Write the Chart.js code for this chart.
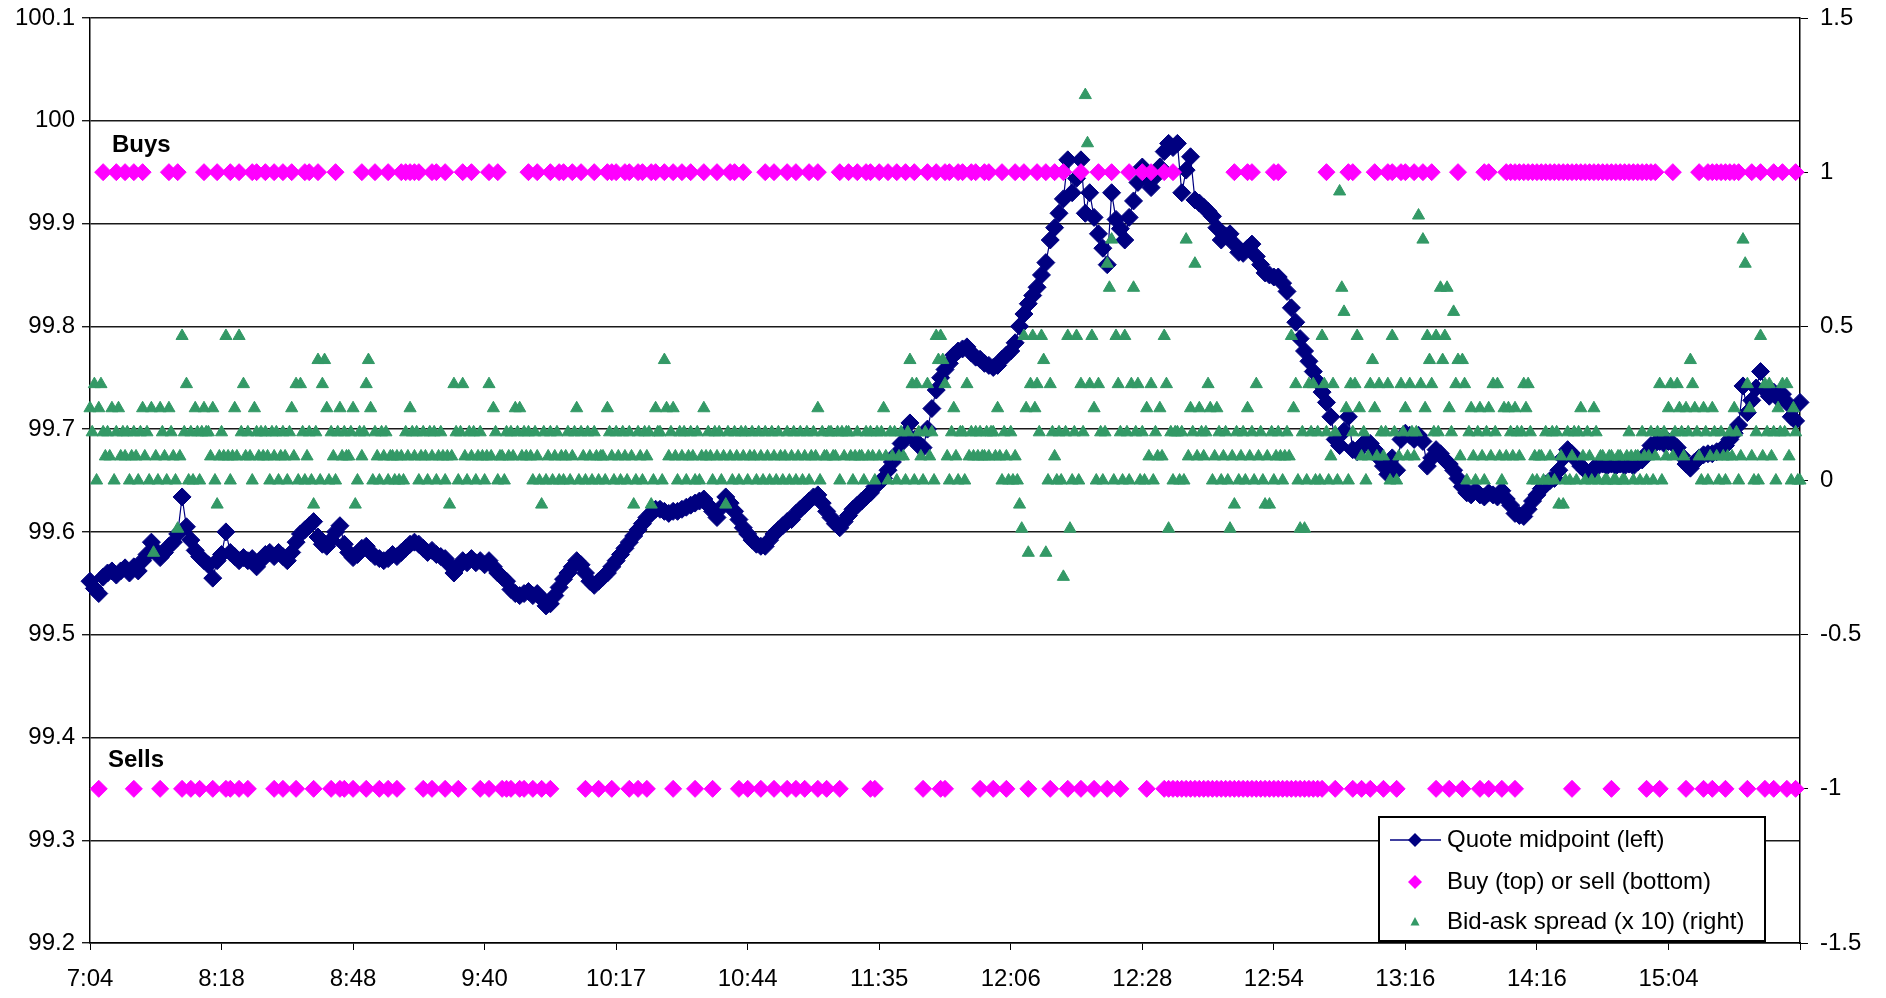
<!DOCTYPE html>
<html>
<head>
<meta charset="utf-8">
<script src="https://cdn.jsdelivr.net/npm/chart.js"></script>
<style>
  html, body { margin: 0; padding: 0; background: #fff; }
  #wrap { width: 1886px; height: 998px; position: relative; }
</style>
</head>
<body>
<div id="wrap"><canvas id="myChart"></canvas></div>
<script>
// time labels shown every 30 steps along the x axis
const timeLabels = ["7:04", "8:18", "8:48", "9:40", "10:17", "10:44", "11:35", "12:06", "12:28", "12:54", "13:16", "14:16", "15:04"];

// quote midpoint (left axis), one value per step 0..390
const midpoint = [
  99.552, 99.545, 99.540, 99.556, 99.560, 99.562, 99.558, 99.562, 99.565, 99.560,
  99.566, 99.562, 99.572, 99.578, 99.590, 99.582, 99.575, 99.580, 99.586, 99.590,
  99.598, 99.634, 99.605, 99.592, 99.582, 99.576, 99.572, 99.568, 99.555, 99.572,
  99.578, 99.600, 99.580, 99.576, 99.572, 99.575, 99.572, 99.574, 99.566, 99.572,
  99.578, 99.580, 99.576, 99.580, 99.576, 99.572, 99.580, 99.590, 99.598, 99.602,
  99.606, 99.610, 99.595, 99.588, 99.586, 99.592, 99.600, 99.606, 99.588, 99.580,
  99.575, 99.578, 99.584, 99.586, 99.580, 99.576, 99.574, 99.572, 99.574, 99.578,
  99.576, 99.580, 99.584, 99.588, 99.590, 99.588, 99.584, 99.580, 99.582, 99.578,
  99.576, 99.574, 99.568, 99.560, 99.566, 99.572, 99.570, 99.574, 99.570, 99.572,
  99.568, 99.572, 99.566, 99.560, 99.556, 99.552, 99.544, 99.540, 99.538, 99.540,
  99.542, 99.538, 99.540, 99.535, 99.528, 99.530, 99.538, 99.546, 99.554, 99.560,
  99.566, 99.572, 99.568, 99.560, 99.552, 99.548, 99.552, 99.556, 99.560, 99.566,
  99.572, 99.578, 99.584, 99.590, 99.596, 99.602, 99.608, 99.614, 99.618, 99.622,
  99.622, 99.620, 99.618, 99.620, 99.620, 99.622, 99.624, 99.626, 99.628, 99.630,
  99.632, 99.626, 99.620, 99.614, 99.624, 99.634, 99.628, 99.620, 99.612, 99.604,
  99.598, 99.592, 99.588, 99.586, 99.586, 99.592, 99.598, 99.602, 99.606, 99.610,
  99.612, 99.618, 99.622, 99.626, 99.630, 99.634, 99.636, 99.628, 99.620, 99.614,
  99.608, 99.604, 99.610, 99.616, 99.622, 99.626, 99.630, 99.634, 99.638, 99.644,
  99.648, 99.652, 99.660, 99.668, 99.676, 99.686, 99.696, 99.706, 99.690, 99.684,
  99.682, 99.700, 99.720, 99.738, 99.750, 99.758, 99.764, 99.772, 99.776, 99.778,
  99.780, 99.774, 99.770, 99.768, 99.764, 99.762, 99.760, 99.762, 99.768, 99.772,
  99.776, 99.784, 99.800, 99.812, 99.822, 99.830, 99.838, 99.850, 99.862, 99.884,
  99.896, 99.910, 99.924, 99.962, 99.930, 99.944, 99.962, 99.910, 99.930, 99.906,
  99.890, 99.876, 99.860, 99.930, 99.904, 99.895, 99.884, 99.906, 99.922, 99.940,
  99.955, 99.944, 99.935, 99.946, 99.955, 99.970, 99.978, 99.974, 99.978, 99.930,
  99.952, 99.965, 99.923, 99.920, 99.916, 99.912, 99.907, 99.896, 99.884, 99.888,
  99.890, 99.880, 99.872, 99.871, 99.876, 99.880, 99.868, 99.860, 99.852, 99.850,
  99.848, 99.848, 99.842, 99.834, 99.818, 99.804, 99.788, 99.776, 99.766, 99.756,
  99.746, 99.736, 99.726, 99.712, 99.690, 99.684, 99.698, 99.712, 99.680, 99.678,
  99.684, 99.688, 99.686, 99.680, 99.672, 99.664, 99.656, 99.672, 99.660, 99.690,
  99.696, 99.694, 99.690, 99.694, 99.688, 99.664, 99.672, 99.680, 99.676, 99.670,
  99.666, 99.660, 99.652, 99.644, 99.638, 99.636, 99.640, 99.636, 99.634, 99.638,
  99.636, 99.634, 99.640, 99.632, 99.626, 99.618, 99.616, 99.615, 99.622, 99.630,
  99.636, 99.642, 99.646, 99.650, 99.652, 99.660, 99.672, 99.680, 99.676, 99.670,
  99.664, 99.660, 99.656, 99.662, 99.664, 99.666, 99.664, 99.666, 99.664, 99.666,
  99.664, 99.666, 99.664, 99.668, 99.670, 99.676, 99.684, 99.686, 99.688, 99.686,
  99.688, 99.686, 99.682, 99.674, 99.666, 99.662, 99.668, 99.672, 99.675, 99.676,
  99.676, 99.678, 99.680, 99.684, 99.690, 99.696, 99.704, 99.742, 99.716, 99.728,
  99.740, 99.756, 99.738, 99.732, 99.736, 99.730, 99.734, 99.726, 99.712, 99.708, 99.726
];

// steps at which a buy / a sell took place
const buyTrades = [3, 6, 8, 10, 12, 18, 20, 26, 29, 32, 34, 37, 38, 40, 42, 44, 46, 49, 50, 52, 56, 62, 65, 68,
  71, 72, 73, 74, 75, 78, 79, 81, 85, 87, 91, 93, 100, 102, 105, 107, 108, 110, 112, 115, 118, 119, 120, 122,
  123, 125, 126, 128, 129, 131, 133, 135, 137, 140, 143, 146, 147, 149, 154, 156, 159, 161, 164, 166, 171, 173,
  175, 177, 178, 180, 182, 184, 186, 188, 191, 193, 195, 196, 198, 199, 201, 202, 204, 205, 208, 211, 213, 216,
  218, 220, 222, 226, 230, 233, 237, 240, 242, 245, 247, 261, 264, 265, 270, 271, 282, 287, 288, 293, 296, 297,
  299, 300, 302, 304, 306, 312, 318, 319, 323, 324, 325, 326, 327, 328, 329, 330, 331, 332, 333, 334, 335, 336,
  337, 338, 339, 340, 341, 342, 343, 344, 345, 346, 347, 348, 349, 350, 351, 352, 353, 354, 355, 356, 357, 361,
  367, 369, 370, 371, 372, 373, 374, 375, 376, 379, 381, 384, 386, 389];
const sellTrades = [2, 10, 16, 21, 23, 25, 28, 31, 32, 34, 36, 42, 44, 47, 51, 55, 57, 58, 60, 63, 66, 68, 70, 76,
  78, 81, 84, 89, 91, 94, 95, 96, 98, 99, 101, 103, 105, 113, 116, 119, 123, 125, 127, 133, 138, 142, 148, 150,
  153, 156, 159, 161, 163, 166, 168, 171, 178, 179, 190, 194, 195, 203, 206, 209, 214, 219, 223, 226, 229, 232,
  235, 241, 245, 246, 247, 248, 249, 250, 251, 252, 253, 254, 255, 256, 257, 258, 259, 260, 261, 262, 263, 264,
  265, 266, 267, 268, 269, 270, 271, 272, 273, 274, 275, 276, 277, 278, 279, 280, 281, 284, 288, 290, 292, 295,
  298, 307, 310, 313, 317, 319, 322, 325, 338, 347, 355, 358, 364, 368, 370, 373, 378, 382, 384, 387, 389];

// bid-ask spread in 1/128ths, two readings per step (half-step spacing)
const spreadTicks = [
  3,2, 4,0, 3,4, 2,1, 2,1, 3,0, 2,3, 1,2, 1,2, 0,1,
  2,1, 0,2, 3,1, 2,0, 3,-3, 1,0, 3,2, 1,0, 3,2, 1,0,
  -2,1, 6,2, 4,0, 2,0, 3,2, 0,2, 3,2, 2,1, 3,0, -1,1,
  2,1, 6,1, 0,1, 3,1, 6,2, 4,1, 2,1, 0,3, 2,1, 2,1,
  2,1, 0,2, 1,2, 0,1, 2,1, 0,2, 3,1, 4,0, 4,2, 0,1,
  2,0, -1,2, 5,0, 4,5, 3,0, 2,1, 0,2, 3,1, 2,1, 1,2,
  3,-1, 0,2, 1,2, 4,5, 3,0, 2,1, 0,2, 1,2, 0,1, 1,0,
  1,0, 1,0, 2,1, 3,2, 1,2, 0,1, 2,1, 0,2, 1,2, 0,1,
  2,1, 0,1, -1,1, 4,2, 0,2, 4,1, 0,2, 1,2, 0,1, 2,1,
  0,1, 4,1, 3,2, 0,1, 1,0, 2,1, 2,1, 3,2, 3,1, 2,1,
  2,1, 0,2, 1,0, -1,2, 0,1, 2,0, 1,2, 0,1, 0,1, 2,0,
  1,2, 3,0, 2,1, 0,2, 1,0, 2,1, 0,1, 1,0, 3,2, 1,0,
  2,1, 0,2, 1,0, 2,1, -1,0, 2,1, 0,2, 1,2, -1,0, 3,2,
  2,0, 5,3, 1,2, 3,1, 0,2, 1,2, 0,1, 2,1, 0,2, 0,1,
  3,1, 2,1, 0,2, 1,2, 0,1, -1,2, 1,0, 2,1, 0,2, 1,2,
  0,1, 2,1, 0,2, 1,0, 2,1, 0,2, 1,0, 2,1, 0,1, 2,0,
  1,2, 0,1, 2,0, 1,2, 0,1, 2,1, 3,0, 2,1, 1,2, 2,1,
  1,2, 0,2, 1,2, 2,1, 0,1, 2,1, 1,0, 2,1, 2,1, 0,2,
  1,2, 3,1, 0,2, 1,2, 0,1, 2,1, 0,2, 5,4, 0,4, 2,1,
  0,2, 4,1, 2,0, 6,5, 6,5, 4,1, 0,2, 3,1, 0,2, 2,0,
  4,1, 2,1, 2,1, 2,1, 1,2, 1,2, 2,1, 3,1, 0,2, 1,0,
  2,0, 1,0, -1,-2, 6,3, -3,4, 6,3, 4,2, 6,5, -3,0, 4,2,
  1,0, 2,0, -4,2, 6,-2, 0,2, 6,0, 4,2, 16,14, 4,6, 3,0,
  4,2, 0,2, 9,8, 10,0, 6,4, 2,0, 6,2, 0,4, 8,2, 4,0,
  2,0, 3,1, 4,0, 2,1, 3,1, 6,4, -2,2, 0,2, 2,0, 2,0,
  10,1, 3,2, 9,1, 3,2, 1,2, 4,3, 0,1, 3,2, 0,1, 2,0,
  -2,1, -1,2, 0,1, 2,0, 3,1, 2,0, 4,1, 2,0, -1,1, -1,2,
  0,1, 2,1, 0,1, 2,1, 6,3, 4,0, -2,2, -2,0, 4,2, 4,0,
  2,0, 6,4, 2,0, 1,4, 2,0, 12,8, 7,3, 0,4, 2,4, 6,3,
  1,2, 0,1, 4,5, 3,1, 4,2, 1,2, 4,0, 6,2, 0,1, 4,2,
  3,1, 4,2, 1,2, 11,4, 10,3, 6,5, 4,2, 6,2, 8,5, 6,8,
  3,2, 7,4, 5,1, 5,4, 0,2, 3,1, 0,2, 3,1, 0,2, 3,1,
  4,2, 4,1, 0,3, 1,3, 2,1, 3,2, 1,2, 4,3, 4,2, 0,1,
  0,1, 1,0, 2,0, 1,2, 0,2, -1,1, -1,0, 2,0, 1,2, 0,2,
  3,1, 0,2, 1,0, 3,2, 0,1, 1,0, 0,1, 1,0, 0,1, 1,0,
  0,1, 2,1, 0,1, 1,0, 2,1, 0,1, 2,0, 1,2, 4,0, 2,1,
  3,4, 1,2, 4,3, 2,1, 3,2, 5,4, 3,2, 1,0, 3,2, 0,1,
  3,2, 1,0, 2,1, 0,1, 2,1, 3,2, 0,1, 10,9, 4,3, 1,0,
  2,0, 6,1, 4,2, 4,1, 2,0, 3,2, 4,2, 4,1, 0,3, 2,0,
  0
];

const NAVY = "#000080";
const MAGENTA = "#ff00ff";
const GREEN = "#339966";
const FONT = "'Liberation Sans', Arial, sans-serif";

const midData = midpoint.map((v, i) => ({ x: i, y: v }));
const tradeData = buyTrades.map(i => ({ x: i, y: 1 })).concat(sellTrades.map(i => ({ x: i, y: -1 })));
const spreadData = spreadTicks.map((k, j) => ({ x: j / 2, y: k * 10 / 128 }));

function diamond(ctx, x, y, r) {
  ctx.beginPath();
  ctx.moveTo(x - r, y);
  ctx.lineTo(x, y - r);
  ctx.lineTo(x + r, y);
  ctx.lineTo(x, y + r);
  ctx.closePath();
  ctx.fill();
}

const overlay = {
  id: "overlay",
  afterDraw(chart) {
    const ctx = chart.ctx;
    const xs = chart.scales.x, ys = chart.scales.y;
    const area = chart.chartArea;
    ctx.save();
    // Buys / Sells labels
    ctx.fillStyle = "#000";
    ctx.font = "bold 24px " + FONT;
    ctx.textAlign = "left";
    ctx.textBaseline = "middle";
    ctx.fillText("Buys", xs.getPixelForValue(5), ys.getPixelForValue(99.976));
    ctx.fillText("Sells", xs.getPixelForValue(4.1), ys.getPixelForValue(99.378));

    // legend box
    const bx = area.right - 421, by = area.bottom - 126, bw = 386, bh = 124;
    ctx.fillStyle = "#fff";
    ctx.fillRect(bx, by, bw, bh);
    ctx.strokeStyle = "#000";
    ctx.lineWidth = 2;
    ctx.strokeRect(bx, by, bw, bh);

    const mx = bx + 36;
    const rows = [by + 23, by + 65, by + 105];
    ctx.strokeStyle = NAVY;
    ctx.lineWidth = 1.5;
    ctx.beginPath();
    ctx.moveTo(bx + 11, rows[0]);
    ctx.lineTo(bx + 62, rows[0]);
    ctx.stroke();
    ctx.fillStyle = NAVY;
    diamond(ctx, mx, rows[0], 7);
    ctx.fillStyle = MAGENTA;
    diamond(ctx, mx, rows[1], 7);
    ctx.fillStyle = GREEN;
    ctx.beginPath();
    ctx.moveTo(mx, rows[2] - 5);
    ctx.lineTo(mx + 4.5, rows[2] + 3.5);
    ctx.lineTo(mx - 4.5, rows[2] + 3.5);
    ctx.closePath();
    ctx.fill();

    ctx.fillStyle = "#000";
    ctx.font = "24px " + FONT;
    ctx.fillText("Quote midpoint (left)", bx + 68, rows[0]);
    ctx.fillText("Buy (top) or sell (bottom)", bx + 68, rows[1]);
    ctx.fillText("Bid-ask spread (x 10) (right)", bx + 68, rows[2]);
    ctx.restore();
  }
};

const fmt = v => String(+Number(v).toFixed(2));
// no extra room above / below the vertical axes: the outer padding sets it
const noPad = s => { s.paddingTop = 0; s.paddingBottom = 0; };

new Chart(document.getElementById("myChart"), {
  type: "scatter",
  data: {
    datasets: [
      {
        label: "Quote midpoint (left)",
        data: midData,
        yAxisID: "y",
        showLine: true,
        borderColor: NAVY,
        borderWidth: 1.2,
        backgroundColor: NAVY,
        pointStyle: "rectRot",
        pointRadius: 9,
        pointBorderWidth: 1,
        pointBorderColor: NAVY,
        clip: false,
        order: 3,
      },
      {
        label: "Buy (top) or sell (bottom)",
        data: tradeData,
        yAxisID: "y1",
        backgroundColor: MAGENTA,
        borderColor: MAGENTA,
        pointStyle: "rectRot",
        pointRadius: 8.5,
        pointBorderWidth: 1,
        clip: false,
        order: 2,
      },
      {
        label: "Bid-ask spread (x 10) (right)",
        data: spreadData,
        yAxisID: "y1",
        backgroundColor: GREEN,
        borderColor: GREEN,
        pointStyle: "triangle",
        pointRadius: 7,
        pointBorderWidth: 1,
        clip: false,
        order: 1,
      },
    ],
  },
  options: {
    responsive: true,
    maintainAspectRatio: false,
    animation: false,
    events: [],
    layout: { padding: { top: 18, left: 0, right: 0, bottom: 0 } },
    plugins: {
      legend: { display: false },
      tooltip: { enabled: false },
    },
    scales: {
      x: {
        type: "linear",
        min: 0,
        max: 390,
        afterFit: s => { s.height = 55; },
        border: { display: true, color: "#000", width: 1.5 },
        grid: { drawOnChartArea: false, color: "#000", tickLength: 7, lineWidth: 1 },
        ticks: {
          stepSize: 30,
          autoSkip: false,
          maxRotation: 0,
          padding: 15,
          color: "#000",
          font: { family: FONT, size: 24 },
          callback: v => timeLabels[v / 30] || "",
        },
      },
      y: {
        position: "left",
        min: 99.2,
        max: 100.1,
        afterFit: s => { s.width = 90; noPad(s); },
        border: { display: true, color: "#000", width: 1.5 },
        grid: { color: "#1a1a1a", lineWidth: 1.4, tickLength: 8 },
        ticks: {
          stepSize: 0.1,
          padding: 7,
          color: "#000",
          font: { family: FONT, size: 24 },
          callback: fmt,
        },
      },
      y1: {
        position: "right",
        min: -1.5,
        max: 1.5,
        afterFit: s => { s.width = 86; noPad(s); },
        border: { display: true, color: "#000", width: 1.5 },
        grid: { drawOnChartArea: false, color: "#000", tickLength: 8 },
        ticks: {
          stepSize: 0.5,
          padding: 12,
          color: "#000",
          font: { family: FONT, size: 24 },
          callback: fmt,
        },
      },
    },
  },
  plugins: [overlay],
});
</script>
</body>
</html>
